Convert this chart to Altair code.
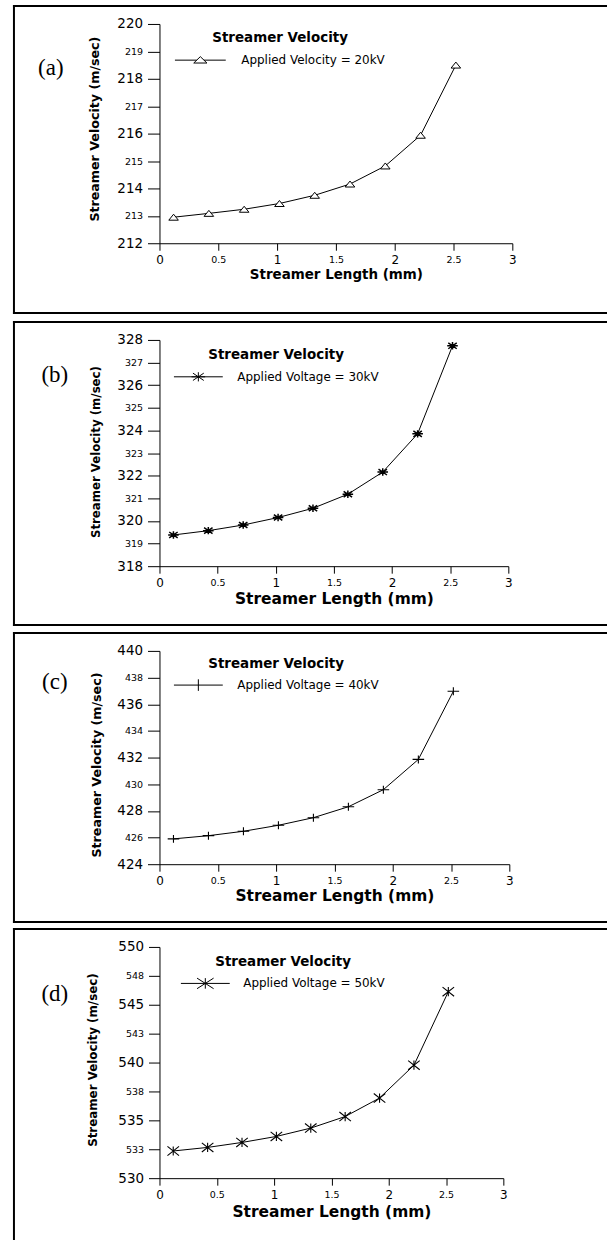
import altair as alt
import pandas as pd

# ---------------- data ----------------
length_mm = [0.12, 0.42, 0.72, 1.02, 1.32, 1.62, 1.92, 2.22, 2.52]
vel_20kV = [212.95, 213.09, 213.24, 213.45, 213.75, 214.16, 214.82, 215.94, 218.50]
vel_30kV = [319.38, 319.57, 319.82, 320.15, 320.56, 321.18, 322.16, 323.85, 327.74]
vel_40kV = [425.90, 426.14, 426.47, 426.92, 427.49, 428.31, 429.59, 431.86, 436.97]
vel_50kV = [532.35, 532.66, 533.09, 533.61, 534.33, 535.33, 536.93, 539.77, 546.13]

series_labels = ["Applied Velocity = 20kV", "Applied Voltage = 30kV",
                 "Applied Voltage = 40kV", "Applied Voltage = 50kV"]
panel_tags = ["(a)", "(b)", "(c)", "(d)"]
legend_title = "Streamer Velocity"
x_title = "Streamer Length (mm)"
y_title = "Streamer Velocity (m/sec)"

x_ticks = [0, 0.5, 1, 1.5, 2, 2.5, 3]
y_ticks_a = [212, 213, 214, 215, 216, 217, 218, 219, 220]
y_ticks_b = [318, 319, 320, 321, 322, 323, 324, 325, 326, 327, 328]
y_ticks_c = [424, 426, 428, 430, 432, 434, 436, 438, 440]
y_ticks_d = [530, 532.5, 535, 537.5, 540, 542.5, 545, 547.5, 550]

# ---------------- layout / style ----------------
FONT = "DejaVu Sans"
X0 = 159  # common left edge of the plot areas (cells are aligned on it)
LAYOUT = [
    dict(vals=vel_20kV, yt=y_ticks_a, major=2, w=354, h=220, top=-19, bottom=291, ext=2,
         ytx=-65, yty=105, ytfs=12.7, xty=31, xtfs=13.5, tag=(-109, 44),
         marker="tri", lx=15, lw=51, lab_off=15, ly=7.2, tp=-10.4),
    dict(vals=vel_30kV, yt=y_ticks_b, major=2, w=350, h=227, top=-19, bottom=287, ext=1,
         ytx=-64, yty=112, ytfs=11.8, xty=32.7, xtfs=15.5, tag=(-105, 35),
         marker="star8", lx=14, lw=49, lab_off=14, ly=8.2, tp=-9.7),
    dict(vals=vel_40kV, yt=y_ticks_c, major=4, w=351, h=214, top=-19, bottom=273, ext=0,
         ytx=-63, yty=114, ytfs=12.7, xty=31.5, xtfs=15.5, tag=(-105, 31),
         marker="plus", lx=14, lw=49, lab_off=14, ly=6.2, tp=-10.4),
    dict(vals=vel_50kV, yt=y_ticks_d, major=5, w=345, h=232, top=-19, bottom=None, ext=0,
         ytx=-67, yty=113, ytfs=11.9, xty=33.7, xtfs=15.5, tag=(-105, 47),
         marker="star6", lx=21, lw=49, lab_off=13, ly=8.5, tp=-10.4),
]


def f(v):
    return f"{v:.3f}".rstrip("0").rstrip(".")


def marker_path(kind, hw, hh, r):
    """Marker outline (pixel half-width hw, half-height hh) in a unit space scaled by r."""
    a, b = hw / r, hh / r
    if kind == "tri":
        return f"M{f(-a)},{f(b)}L0,{f(-b)}L{f(a)},{f(b)}Z"
    if kind == "plus":
        return f"M{f(-a)},0H{f(a)}M0,{f(-b)}V{f(b)}"
    if kind == "star8":
        return (f"M{f(-a)},0H{f(a)}M0,{f(-b)}V{f(b)}"
                f"M{f(-0.8*a)},{f(-0.8*b)}L{f(0.8*a)},{f(0.8*b)}M{f(-0.8*a)},{f(0.8*b)}L{f(0.8*a)},{f(-0.8*b)}")
    return (f"M0,{f(-b)}V{f(b)}M{f(-a)},{f(-b)}L{f(a)},{f(b)}M{f(-a)},{f(b)}L{f(a)},{f(-b)}")


def legend_path(kind, hw, hh, r):
    a, b = hw / r, hh / r
    if kind == "tri":
        apex, base = -1.1 * b, 0.9 * b
        cut = a * (-apex) / (base - apex)
        return (f"M-1,0H{f(-cut)}M{f(cut)},0H1"
                f"M{f(-a)},{f(base)}L0,{f(apex)}L{f(a)},{f(base)}Z")
    if kind == "plus":
        return f"M-1,0H1M0,{f(-b)}V{f(b)}"
    return "M-1,0H1" + marker_path(kind, hw, hh, r)


PLOT_MARK = {  # (half width, half height, stroke width) in pixels
    "tri": (4.8, 3.0, 1.0),
    "star8": (5.3, 3.7, 1.5),
    "plus": (5.8, 4.0, 1.1),
    "star6": (5.8, 4.6, 1.1),
}
LEG_MARK = {
    "tri": (6.6, 3.2),
    "star8": (6.8, 4.6),
    "plus": (8.3, 5.8),
    "star6": (8.3, 5.3),
}

blank = alt.Data(values=[{}])


def bar(x1, x2, y1, y2, color="black"):
    return alt.Chart(blank).mark_rect(color=color, strokeWidth=0).encode(
        x=alt.value(x1), x2=alt.value(x2), y=alt.value(y1), y2=alt.value(y2))


def panel(i, L):
    df = pd.DataFrame({"length": length_mm, "velocity": L["vals"],
                       "series": [series_labels[i]] * len(length_mm)})
    left = 12 - X0
    right = 608 - X0
    top = L["top"]

    layers = [bar(left, right, top, top + 2)]
    if L["bottom"] is not None:
        layers.append(bar(left, left + 2, top, L["bottom"]))
        layers.append(bar(left, right, L["bottom"] - 2, L["bottom"]))
        if L["ext"]:
            layers.append(bar(left, left + 30, L["bottom"], L["bottom"] + L["ext"], "white"))
    else:
        layers.append(bar(left, left + 2, top, 1240 - 946))

    major = L["major"]
    x_axis = alt.Axis(
        values=x_ticks, tickCount=30, format="~g", title=x_title, titleFont=FONT,
        titleFontWeight="bold", titleFontSize=L["xtfs"], titleColor="black", titleY=L["xty"],
        titleBaseline="middle",
        labelFont=FONT, labelColor="black",
        labelFontSize={"condition": {"test": "datum.value % 1 === 0", "value": 12}, "value": 9.5},
        labelPadding=4, labelFlush=False, labelOverlap=False,
        tickSize=7, tickColor="black", tickWidth=1, domainColor="black", domainWidth=1, grid=False)
    y_axis = alt.Axis(
        values=L["yt"], tickCount=30, format=".0f", title=y_title, titleFont=FONT,
        titleFontWeight="bold", titleFontSize=L["ytfs"], titleColor="black",
        titleX=L["ytx"], titleY=L["yty"], titleBaseline="middle", titleAlign="center",
        labelFont=FONT, labelColor="black",
        labelFontSize={"condition": {"test": f"datum.value % {major} === 0", "value": 13.5}, "value": 9.5},
        labelPadding=5, labelOverlap=False,
        tickSize=12 if i < 3 else 11, tickColor="black", tickWidth=1,
        domainColor="black", domainWidth=1, grid=False)

    yt = L["yt"]
    xenc = alt.X("length:Q", scale=alt.Scale(domain=[0, 3], nice=False, zero=False), axis=x_axis)
    yenc = alt.Y("velocity:Q", scale=alt.Scale(domain=[yt[0], yt[-1]], nice=False, zero=False),
                 axis=y_axis)

    kind = L["marker"]
    r = L["lw"] / 2.0
    lhw, lhh = LEG_MARK[kind]
    legend = alt.Legend(
        title=legend_title, orient="none", legendX=L["lx"], legendY=L["ly"],
        titleFont=FONT, titleFontWeight="bold", titleFontSize=13.5, titleColor="black",
        titleAnchor="middle", titleAlign="center", titlePadding=L["tp"], titleLimit=400,
        labelFont=FONT, labelFontSize=12, labelColor="black", labelOffset=L["lab_off"],
        labelLimit=400, symbolType=legend_path(kind, lhw, lhh, r), symbolSize=(2 * r) ** 2,
        symbolStrokeWidth=1, symbolStrokeColor="black", symbolFillColor="white", padding=0)

    line = alt.Chart(df).mark_line(strokeWidth=1).encode(
        x=xenc, y=yenc,
        color=alt.Color("series:N", scale=alt.Scale(range=["black"]), legend=legend))

    phw, phh, psw = PLOT_MARK[kind]
    pr = phw
    pts = alt.Chart(df).mark_point(
        shape=marker_path(kind, phw, phh, pr), size=(2 * pr) ** 2, fill="white",
        fillOpacity=1 if kind == "tri" else 0, stroke="black", strokeWidth=psw, opacity=1
    ).encode(x="length:Q", y="velocity:Q")

    tag = alt.Chart(blank).mark_text(
        text=panel_tags[i], font="Liberation Serif", fontSize=23, align="center",
        baseline="middle", color="black"
    ).encode(x=alt.value(L["tag"][0]), y=alt.value(L["tag"][1]))

    return alt.layer(*layers, line, pts, tag).properties(width=L["w"], height=L["h"])


chart = alt.vconcat(*[panel(i, L) for i, L in enumerate(LAYOUT)], spacing=3).resolve_scale(
    color="independent"
).resolve_legend(color="independent").properties(
    padding={"left": 12, "top": 2, "right": 0, "bottom": 0}, background="white"
).configure_view(stroke="transparent")

chart.save("out.html", embed_options={"renderer": "svg", "actions": False})
